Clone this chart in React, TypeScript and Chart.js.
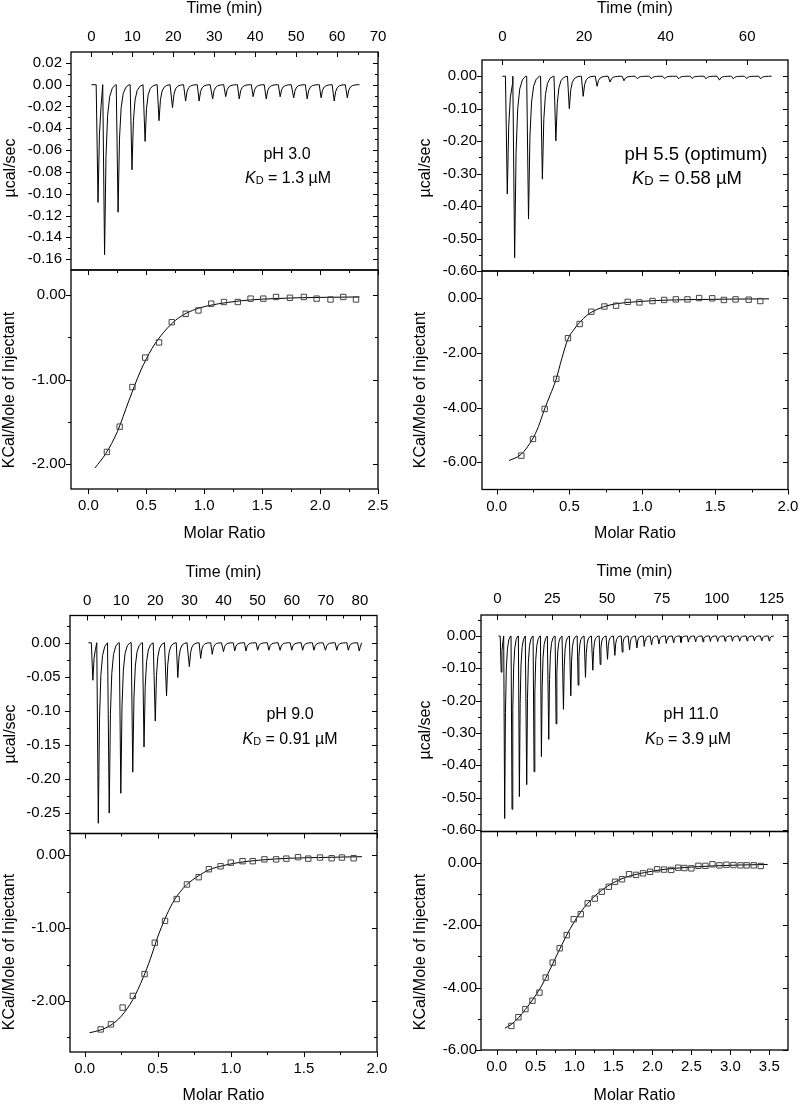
import React, { useEffect, useRef } from "react";
import { Chart, registerables } from "chart.js";

Chart.register(...registerables);

const FONT = '"Liberation Sans", Arial, Helvetica, sans-serif';
Chart.defaults.font.family = FONT;
Chart.defaults.color = "#000";

// ---------------- Panel A : pH 3.0 ----------------
const A_INJ_TIME = [1.6, 3.2, 6.5, 9.9, 13.1, 16.5, 19.8, 23.0, 26.3, 29.6, 32.8, 36.1, 39.5, 42.7, 46.1, 49.4, 52.7, 56.1, 59.3, 62.5];
const A_PEAK_RATE = [-0.108, -0.156, -0.117, -0.078, -0.052, -0.033, -0.021, -0.015, -0.015, -0.013, -0.011, -0.013, -0.011, -0.013, -0.011, -0.012, -0.013, -0.012, -0.015, -0.012];
const A_RATIO = [0.16, 0.27, 0.38, 0.49, 0.61, 0.72, 0.84, 0.95, 1.06, 1.17, 1.29, 1.4, 1.51, 1.62, 1.74, 1.86, 1.97, 2.09, 2.2, 2.31];
const A_HEAT = [-1.86, -1.56, -1.09, -0.74, -0.56, -0.32, -0.22, -0.18, -0.1, -0.08, -0.08, -0.04, -0.04, -0.02, -0.03, -0.02, -0.04, -0.05, -0.02, -0.05];
const A_FIT_RATIO = [0.057, 0.15, 0.25, 0.35, 0.45, 0.55, 0.65, 0.75, 0.85, 0.95, 1.05, 1.2, 1.4, 1.6, 1.8, 2.0, 2.34];
const A_FIT_HEAT = [-2.05, -1.88, -1.62, -1.25, -0.9, -0.63, -0.44, -0.3, -0.21, -0.155, -0.12, -0.085, -0.055, -0.04, -0.03, -0.025, -0.02];
const A_TIME_TICKS = [0, 10, 20, 30, 40, 50, 60, 70];
const A_RATE_TICKS = [0.02, 0, -0.02, -0.04, -0.06, -0.08, -0.1, -0.12, -0.14, -0.16];
const A_RATIO_TICKS = [0, 0.5, 1, 1.5, 2, 2.5];
const A_HEAT_TICKS = [0, -1, -2];

// ---------------- Panel B : pH 5.5 ----------------
const B_INJ_TIME = [1.2, 3.0, 6.4, 9.8, 13.1, 16.4, 19.8, 23.2, 26.4, 29.8, 33.1, 36.5, 39.8, 43.2, 46.5, 49.9, 53.2, 56.6, 59.9, 63.3];
const B_PEAK_RATE = [-0.363, -0.559, -0.44, -0.317, -0.199, -0.1, -0.062, -0.031, -0.018, -0.014, -0.008, -0.008, -0.007, -0.008, -0.007, -0.008, -0.012, -0.008, -0.007, -0.008];
const B_RATIO = [0.17, 0.25, 0.33, 0.41, 0.49, 0.57, 0.65, 0.74, 0.82, 0.9, 0.98, 1.07, 1.15, 1.23, 1.31, 1.39, 1.48, 1.56, 1.64, 1.73, 1.81];
const B_HEAT = [-5.76, -5.15, -4.05, -2.95, -1.46, -0.94, -0.49, -0.3, -0.27, -0.13, -0.15, -0.1, -0.06, -0.04, -0.04, 0.01, 0.0, -0.06, -0.04, -0.05, -0.1];
const B_FIT_RATIO = [0.085, 0.167, 0.247, 0.287, 0.327, 0.367, 0.407, 0.448, 0.489, 0.53, 0.571, 0.62, 0.654, 0.736, 0.82, 0.95, 1.1, 1.3, 1.6, 1.87];
const B_FIT_HEAT = [-5.94, -5.72, -5.15, -4.7, -4.09, -3.55, -2.99, -2.2, -1.5, -1.15, -0.88, -0.62, -0.5, -0.31, -0.2, -0.13, -0.08, -0.05, -0.03, -0.02];
const B_TIME_TICKS = [0, 20, 40, 60];
const B_RATE_TICKS = [0, -0.1, -0.2, -0.3, -0.4, -0.5, -0.6];
const B_RATIO_TICKS = [0, 0.5, 1, 1.5, 2];
const B_HEAT_TICKS = [0, -2, -4, -6];

// ---------------- Panel C : pH 9.0 ----------------
const C_INJ_TIME = [1.7, 3.3, 6.5, 9.9, 13.4, 16.7, 20.0, 23.3, 26.6, 30.0, 33.3, 36.7, 40.0, 43.3, 46.6, 50.0, 53.3, 56.6, 60.0, 63.2, 66.5, 69.9, 73.2, 76.6, 79.8];
const C_PEAK_RATE = [-0.055, -0.265, -0.25, -0.221, -0.19, -0.153, -0.115, -0.078, -0.051, -0.035, -0.023, -0.017, -0.013, -0.012, -0.012, -0.011, -0.011, -0.011, -0.011, -0.011, -0.011, -0.011, -0.011, -0.011, -0.012];
const C_RATIO = [0.11, 0.18, 0.26, 0.33, 0.41, 0.48, 0.55, 0.63, 0.7, 0.78, 0.85, 0.93, 1.0, 1.08, 1.15, 1.23, 1.31, 1.38, 1.46, 1.53, 1.61, 1.69, 1.76, 1.84];
const C_HEAT = [-2.39, -2.32, -2.09, -1.93, -1.63, -1.2, -0.9, -0.6, -0.4, -0.3, -0.19, -0.15, -0.1, -0.08, -0.08, -0.055, -0.055, -0.045, -0.025, -0.045, -0.03, -0.04, -0.03, -0.04];
const C_FIT_RATIO = [0.034, 0.106, 0.18, 0.25, 0.33, 0.4, 0.45, 0.5, 0.55, 0.6, 0.65, 0.7, 0.78, 0.85, 0.95, 1.05, 1.2, 1.4, 1.6, 1.897];
const C_FIT_HEAT = [-2.435, -2.4, -2.33, -2.21, -1.98, -1.68, -1.42, -1.12, -0.87, -0.66, -0.51, -0.4, -0.28, -0.2, -0.14, -0.1, -0.065, -0.04, -0.03, -0.018];
const C_TIME_TICKS = [0, 10, 20, 30, 40, 50, 60, 70, 80];
const C_RATE_TICKS = [0, -0.05, -0.1, -0.15, -0.2, -0.25];
const C_RATIO_TICKS = [0, 0.5, 1, 1.5, 2];
const C_HEAT_TICKS = [0, -1, -2];

// ---------------- Panel D : pH 11.0 ----------------
const D_INJ_TIME = [1.7, 3.3, 6.65, 10.0, 13.35, 16.7, 20.05, 23.4, 26.75, 30.1, 33.45, 36.8, 40.15, 43.5, 46.85, 50.2, 53.55, 56.9, 60.25, 63.6, 66.95, 70.3, 73.65, 77.0, 80.35, 83.7, 87.05, 90.4, 93.75, 97.1, 100.45, 103.8, 107.15, 110.5, 113.85, 117.2, 120.55, 123.9];
const D_PEAK_RATE = [-0.112, -0.565, -0.536, -0.497, -0.46, -0.42, -0.373, -0.32, -0.272, -0.227, -0.185, -0.152, -0.128, -0.106, -0.088, -0.072, -0.06, -0.05, -0.043, -0.037, -0.032, -0.028, -0.025, -0.023, -0.021, -0.02, -0.019, -0.018, -0.018, -0.017, -0.017, -0.016, -0.016, -0.016, -0.015, -0.015, -0.015, -0.015];
const D_RATIO = [0.19, 0.28, 0.37, 0.46, 0.55, 0.63, 0.72, 0.81, 0.9, 0.99, 1.08, 1.17, 1.26, 1.35, 1.44, 1.52, 1.61, 1.7, 1.79, 1.88, 1.97, 2.06, 2.15, 2.24, 2.33, 2.41, 2.5, 2.59, 2.68, 2.77, 2.86, 2.95, 3.04, 3.13, 3.21, 3.3, 3.39];
const D_HEAT = [-5.23, -4.95, -4.69, -4.42, -4.16, -3.68, -3.2, -2.74, -2.32, -1.81, -1.65, -1.3, -1.15, -0.93, -0.77, -0.61, -0.53, -0.37, -0.39, -0.34, -0.29, -0.21, -0.22, -0.23, -0.16, -0.17, -0.18, -0.1, -0.1, -0.05, -0.085, -0.065, -0.075, -0.085, -0.085, -0.085, -0.105];
const D_FIT_RATIO = [0.107, 0.19, 0.28, 0.37, 0.46, 0.55, 0.63, 0.72, 0.81, 0.9, 0.99, 1.08, 1.17, 1.26, 1.35, 1.5, 1.65, 1.8, 2.0, 2.2, 2.5, 2.8, 3.1, 3.48];
const D_FIT_HEAT = [-5.3, -5.18, -4.97, -4.7, -4.4, -4.06, -3.7, -3.24, -2.77, -2.32, -1.92, -1.58, -1.3, -1.07, -0.88, -0.64, -0.47, -0.37, -0.27, -0.2, -0.14, -0.1, -0.075, -0.055];
const D_TIME_TICKS = [0, 25, 50, 75, 100, 125];
const D_RATE_TICKS = [0, -0.1, -0.2, -0.3, -0.4, -0.5, -0.6];
const D_RATIO_TICKS = [0, 0.5, 1, 1.5, 2, 2.5, 3, 3.5];
const D_HEAT_TICKS = [0, -2, -4, -6];

// shape used to render one injection peak: time offset (min) and fraction of the peak depth
const PEAK_SHAPE_DT = [-0.45, 0, 0.35, 0.75, 1.25, 1.9, 2.7];
const PEAK_SHAPE_FRAC = [0, 1, 0.42, 0.18, 0.07, 0.02, 0];

type Pt = { x: number; y: number };
type Rect = { l: number; t: number; r: number; b: number };

const zip = (xs: number[], ys: number[]): Pt[] => xs.map((x, i) => ({ x, y: ys[i] }));

function thermogram(times: number[], depths: number[], start: number, end: number): Pt[] {
  const pts: Pt[] = [{ x: start, y: 0 }];
  times.forEach((t, i) => {
    const limit = i + 1 < times.length ? times[i + 1] + PEAK_SHAPE_DT[0] : end;
    PEAK_SHAPE_DT.forEach((dt, k) => {
      const x = t + dt;
      if (x > pts[pts.length - 1].x && x < limit) pts.push({ x, y: depths[i] * PEAK_SHAPE_FRAC[k] });
    });
  });
  pts.push({ x: end, y: 0 });
  return pts;
}

function minorTicks(major: number[], min: number, max: number): number[] {
  const m = [...major].sort((a, b) => a - b);
  const step = m[1] - m[0];
  const out: number[] = [];
  for (let v = m[0] - step / 2; v < max + 1e-9; v += step) {
    if (v > min + 1e-9 && v < max - 1e-9) out.push(v);
  }
  return out;
}

const traceSet = (pts: Pt[]) => ({
  data: pts, showLine: true, borderColor: "#000", borderWidth: 1, pointRadius: 0, tension: 0,
});
const fitSet = (pts: Pt[]) => ({
  data: pts, showLine: true, borderColor: "#000", borderWidth: 1, pointRadius: 0, cubicInterpolationMode: "monotone",
});
const squareSet = (pts: Pt[]) => ({
  data: pts, showLine: false, pointStyle: "rect", pointRadius: 3.8, pointBorderWidth: 1,
  pointBorderColor: "#444", pointBackgroundColor: "rgba(255,255,255,0)",
});

type Notes = { ph: string; kd: string; x1: number; y1: number; x2: number; y2: number; size: number };
type Spec = {
  canvas: Rect;
  area: Rect;
  x: { min: number; max: number; ticks: number[]; dec: number; pad: number; position: "top" | "bottom"; title: string };
  y: { min: number; max: number; ticks: number[]; dec: number; pad: number };
  yTitle: { text: string; x: number; y: number };
  notes?: Notes;
  datasets: any[];
};

const SPECS: Spec[] = [
  // A top
  {
    canvas: { l: 0, t: 1, r: 400, b: 292 },
    area: { l: 71, t: 52, r: 378, b: 270 },
    x: { min: -5, max: 70, ticks: A_TIME_TICKS, dec: 0, pad: 6, position: "top", title: "Time (min)" },
    y: { min: -0.17, max: 0.03, ticks: A_RATE_TICKS, dec: 2, pad: 9 },
    yTitle: { text: "µcal/sec", x: 11, y: 168 },
    notes: { ph: "pH 3.0", kd: "1.3 µM", x1: 287, y1: 153, x2: 288, y2: 177, size: 16 },
    datasets: [traceSet(thermogram(A_INJ_TIME, A_PEAK_RATE, 0, 65.5))],
  },
  // A bottom
  {
    canvas: { l: 0, t: 250, r: 400, b: 542 },
    area: { l: 71, t: 270, r: 378, b: 489 },
    x: { min: -0.15, max: 2.5, ticks: A_RATIO_TICKS, dec: 1, pad: 8, position: "bottom", title: "Molar Ratio" },
    y: { min: -2.3, max: 0.3, ticks: A_HEAT_TICKS, dec: 2, pad: 5 },
    yTitle: { text: "KCal/Mole of Injectant", x: 9.5, y: 390 },
    datasets: [squareSet(zip(A_RATIO, A_HEAT)), fitSet(zip(A_FIT_RATIO, A_FIT_HEAT))],
  },
  // B top
  {
    canvas: { l: 400, t: 1, r: 800, b: 292 },
    area: { l: 482, t: 60, r: 788, b: 271 },
    x: { min: -5, max: 70, ticks: B_TIME_TICKS, dec: 0, pad: 14, position: "top", title: "Time (min)" },
    y: { min: -0.6, max: 0.05, ticks: B_RATE_TICKS, dec: 2, pad: 5 },
    yTitle: { text: "µcal/sec", x: 426, y: 168 },
    notes: { ph: "pH 5.5 (optimum)", kd: "0.58 µM", x1: 696, y1: 153, x2: 687, y2: 177, size: 18.5 },
    datasets: [traceSet(thermogram(B_INJ_TIME, B_PEAK_RATE, 0, 66))],
  },
  // B bottom
  {
    canvas: { l: 400, t: 251, r: 800, b: 542 },
    area: { l: 482, t: 271, r: 788, b: 489.5 },
    x: { min: -0.1, max: 2.0, ticks: B_RATIO_TICKS, dec: 1, pad: 8, position: "bottom", title: "Molar Ratio" },
    y: { min: -7, max: 1, ticks: B_HEAT_TICKS, dec: 2, pad: 5 },
    yTitle: { text: "KCal/Mole of Injectant", x: 421, y: 390 },
    datasets: [squareSet(zip(B_RATIO, B_HEAT)), fitSet(zip(B_FIT_RATIO, B_FIT_HEAT))],
  },
  // C top
  {
    canvas: { l: 0, t: 565, r: 400, b: 855 },
    area: { l: 70, t: 615.5, r: 377, b: 833.5 },
    x: { min: -5, max: 85, ticks: C_TIME_TICKS, dec: 0, pad: 6, position: "top", title: "Time (min)" },
    y: { min: -0.28, max: 0.04, ticks: C_RATE_TICKS, dec: 2, pad: 9.5 },
    yTitle: { text: "µcal/sec", x: 11, y: 734 },
    notes: { ph: "pH 9.0", kd: "0.91 µM", x1: 290, y1: 713, x2: 290, y2: 738, size: 16 },
    datasets: [traceSet(thermogram(C_INJ_TIME, C_PEAK_RATE, 0.4, 80.5))],
  },
  // C bottom
  {
    canvas: { l: 0, t: 813, r: 400, b: 1104 },
    area: { l: 70, t: 833.5, r: 377, b: 1052 },
    x: { min: -0.1, max: 2.0, ticks: C_RATIO_TICKS, dec: 1, pad: 8, position: "bottom", title: "Molar Ratio" },
    y: { min: -2.7, max: 0.3, ticks: C_HEAT_TICKS, dec: 2, pad: 4.5 },
    yTitle: { text: "KCal/Mole of Injectant", x: 9.5, y: 952 },
    datasets: [squareSet(zip(C_RATIO, C_HEAT)), fitSet(zip(C_FIT_RATIO, C_FIT_HEAT))],
  },
  // D top
  {
    canvas: { l: 400, t: 564, r: 800, b: 854 },
    area: { l: 481, t: 615, r: 788, b: 831.5 },
    x: { min: -7.5, max: 132.5, ticks: D_TIME_TICKS, dec: 0, pad: 7, position: "top", title: "Time (min)" },
    y: { min: -0.605, max: 0.065, ticks: D_RATE_TICKS, dec: 2, pad: 5 },
    yTitle: { text: "µcal/sec", x: 426, y: 730 },
    notes: { ph: "pH 11.0", kd: "3.9 µM", x1: 691, y1: 713, x2: 688, y2: 738, size: 16 },
    datasets: [traceSet(thermogram(D_INJ_TIME, D_PEAK_RATE, 0.5, 126))],
  },
  // D bottom
  {
    canvas: { l: 400, t: 811, r: 800, b: 1104 },
    area: { l: 481, t: 831.5, r: 788, b: 1050 },
    x: { min: -0.2, max: 3.74, ticks: D_RATIO_TICKS, dec: 1, pad: 8, position: "bottom", title: "Molar Ratio" },
    y: { min: -6, max: 1, ticks: D_HEAT_TICKS, dec: 2, pad: 4 },
    yTitle: { text: "KCal/Mole of Injectant", x: 421, y: 952 },
    datasets: [squareSet(zip(D_RATIO, D_HEAT)), fitSet(zip(D_FIT_RATIO, D_FIT_HEAT))],
  },
];

function drawNotes(ctx: CanvasRenderingContext2D, n: Notes, offX: number, offY: number) {
  const size = n.size;
  ctx.fillStyle = "#000";
  ctx.textBaseline = "alphabetic";
  ctx.textAlign = "left";
  ctx.font = `${size}px ${FONT}`;
  const w1 = ctx.measureText(n.ph).width;
  ctx.fillText(n.ph, n.x1 - offX - w1 / 2, n.y1 - offY + size * 0.36);
  const parts = [
    { t: "K", f: `italic ${size}px ${FONT}`, dy: 0 },
    { t: "D", f: `${Math.round(size * 0.7)}px ${FONT}`, dy: size * 0.08 },
    { t: " = " + n.kd, f: `${size}px ${FONT}`, dy: 0 },
  ];
  let total = 0;
  const widths = parts.map((p) => {
    ctx.font = p.f;
    const w = ctx.measureText(p.t).width;
    total += w;
    return w;
  });
  let x = n.x2 - offX - total / 2;
  const base = n.y2 - offY + size * 0.36;
  parts.forEach((p, i) => {
    ctx.font = p.f;
    ctx.fillText(p.t, x, base + p.dy);
    x += widths[i];
  });
}

function makeConfig(s: Spec): any {
  const xTop = s.x.position === "top";
  const xMinor = minorTicks(s.x.ticks, s.x.min, s.x.max);
  const yMinor = minorTicks(s.y.ticks, s.y.min, s.y.max);
  const snap = (p: number) => Math.round(p) + 0.5;

  const framePlugin = {
    id: "itcFrame",
    afterDraw(chart: any) {
      const { ctx, chartArea: a } = chart;
      const xs = chart.scales.x;
      const ys = chart.scales.y;
      ctx.save();
      ctx.strokeStyle = "#000";
      ctx.lineWidth = 1;
      ctx.beginPath();
      const yTick = (v: number, len: number) => {
        const p = snap(ys.getPixelForValue(v));
        ctx.moveTo(a.left, p);
        ctx.lineTo(a.left - len, p);
        ctx.moveTo(a.right, p);
        ctx.lineTo(a.right - len, p);
      };
      const xTick = (v: number, len: number) => {
        const p = snap(xs.getPixelForValue(v));
        ctx.moveTo(p, a.top);
        ctx.lineTo(p, a.top + len);
        if (!xTop) {
          ctx.moveTo(p, a.bottom);
          ctx.lineTo(p, a.bottom + len);
        }
      };
      s.y.ticks.forEach((v) => yTick(v, 5));
      yMinor.forEach((v) => yTick(v, 3));
      s.x.ticks.forEach((v) => xTick(v, 5));
      xMinor.forEach((v) => xTick(v, 3));
      ctx.stroke();
      ctx.lineWidth = 1.3;
      ctx.strokeRect(a.left, a.top, a.right - a.left, a.bottom - a.top);
      ctx.restore();
    },
  };

  const textPlugin = {
    id: "itcText",
    afterDraw(chart: any) {
      const ctx = chart.ctx as CanvasRenderingContext2D;
      ctx.save();
      ctx.fillStyle = "#000";
      ctx.translate(s.yTitle.x - s.canvas.l, s.yTitle.y - s.canvas.t);
      ctx.rotate(-Math.PI / 2);
      ctx.font = `16px ${FONT}`;
      ctx.textAlign = "center";
      ctx.textBaseline = "middle";
      ctx.fillText(s.yTitle.text, 0, 0);
      ctx.restore();
      if (s.notes) {
        ctx.save();
        drawNotes(ctx, s.notes, s.canvas.l, s.canvas.t);
        ctx.restore();
      }
    },
  };

  const tickFont = { family: FONT, size: 15 };

  return {
    type: "scatter",
    data: { datasets: s.datasets },
    options: {
      responsive: false,
      animation: false,
      events: [],
      layout: {
        padding: {
          left: 0,
          right: s.canvas.r - s.area.r,
          top: xTop ? 0 : s.area.t - s.canvas.t,
          bottom: xTop ? s.canvas.b - s.area.b : 0,
        },
      },
      plugins: { legend: { display: false }, tooltip: { enabled: false } },
      scales: {
        x: {
          type: "linear",
          position: s.x.position,
          min: s.x.min,
          max: s.x.max,
          bounds: "data",
          afterBuildTicks: (sc: any) => {
            sc.ticks = s.x.ticks.map((v) => ({ value: v }));
          },
          afterFit: (sc: any) => {
            sc.height = xTop ? s.area.t - s.canvas.t : s.canvas.b - s.area.b;
            sc.paddingLeft = 0;
            sc.paddingRight = 0;
          },
          grid: { display: false, drawTicks: false },
          border: { display: false },
          ticks: {
            autoSkip: false,
            maxRotation: 0,
            minRotation: 0,
            padding: s.x.pad,
            color: "#000",
            font: tickFont,
            callback: (v: any) => Number(v).toFixed(s.x.dec),
          },
          title: {
            display: true,
            text: s.x.title,
            color: "#000",
            font: { family: FONT, size: 16, lineHeight: 1 },
            padding: 0,
          },
        },
        y: {
          type: "linear",
          position: "left",
          min: s.y.min,
          max: s.y.max,
          bounds: "data",
          afterBuildTicks: (sc: any) => {
            sc.ticks = s.y.ticks.map((v) => ({ value: v }));
          },
          afterFit: (sc: any) => {
            sc.width = s.area.l - s.canvas.l;
            sc.paddingTop = 0;
            sc.paddingBottom = 0;
          },
          grid: { display: false, drawTicks: false },
          border: { display: false },
          ticks: {
            autoSkip: false,
            padding: s.y.pad,
            color: "#000",
            font: tickFont,
            callback: (v: any) => Number(v).toFixed(s.y.dec),
          },
        },
      },
    },
    plugins: [framePlugin, textPlugin],
  };
}

function Subplot({ spec }: { spec: Spec }) {
  const ref = useRef<HTMLCanvasElement | null>(null);
  useEffect(() => {
    if (!ref.current) return;
    const chart = new Chart(ref.current, makeConfig(spec));
    return () => chart.destroy();
  }, [spec]);
  const w = spec.canvas.r - spec.canvas.l;
  const h = spec.canvas.b - spec.canvas.t;
  return (
    <canvas
      ref={ref}
      width={w}
      height={h}
      style={{ position: "absolute", left: spec.canvas.l, top: spec.canvas.t, width: w, height: h }}
    />
  );
}

export default function App() {
  return (
    <div
      style={{
        position: "absolute",
        left: 0,
        top: 0,
        width: 800,
        height: 1104,
        overflow: "hidden",
        background: "#fff",
      }}
    >
      {SPECS.map((s, i) => (
        <Subplot key={i} spec={s} />
      ))}
    </div>
  );
}
